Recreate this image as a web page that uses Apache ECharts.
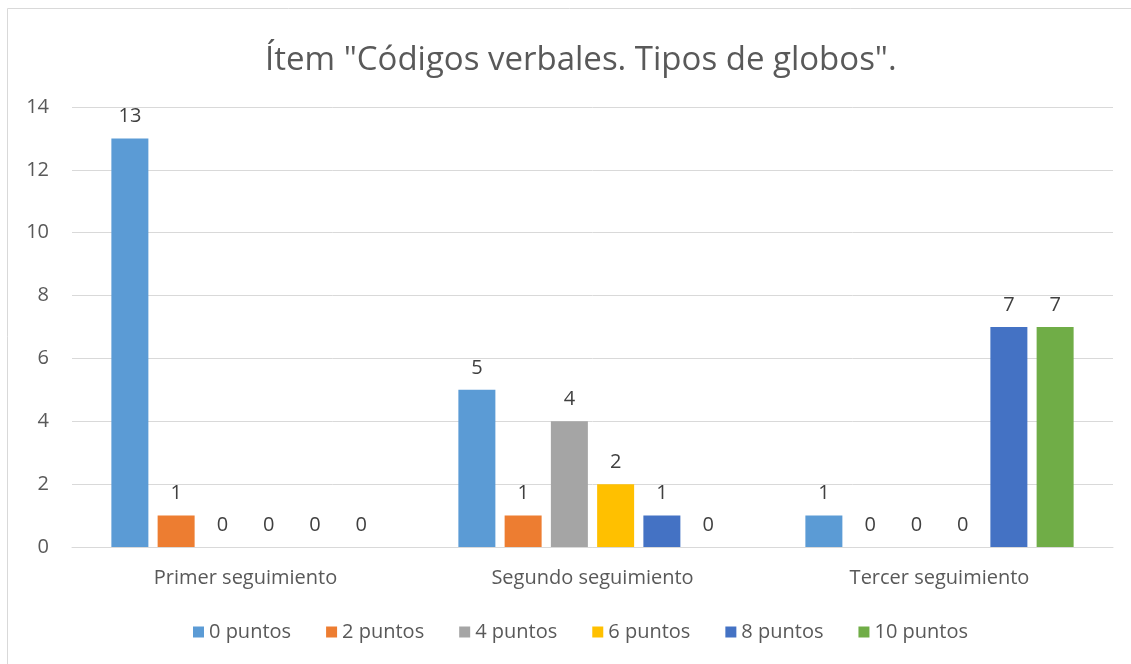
<!DOCTYPE html>
<html>
<head>
<meta charset="utf-8">
<script src="https://cdn.jsdelivr.net/npm/echarts@6/dist/echarts.min.js"></script>
<style>
html,body{margin:0;padding:0;background:#fff;}
#chart{width:1131px;height:664px;}
</style>
</head>
<body>
<div id="chart"></div>
<script>
const categories = ['Primer seguimiento', 'Segundo seguimiento', 'Tercer seguimiento'];
const seriesNames = ['0 puntos', '2 puntos', '4 puntos', '6 puntos', '8 puntos', '10 puntos'];
const puntos0 = [13, 5, 1];
const puntos2 = [1, 1, 0];
const puntos4 = [0, 4, 0];
const puntos6 = [0, 2, 0];
const puntos8 = [0, 1, 7];
const puntos10 = [0, 0, 7];
const colors = ['#5B9BD5', '#ED7D31', '#A5A5A5', '#FFC000', '#4472C4', '#70AD47'];
const titleText = 'Ítem "Códigos verbales. Tipos de globos".';

const seriesData = [puntos0, puntos2, puntos4, puntos6, puntos8, puntos10];
const FONT = '"Open Sans", sans-serif';

const chart = echarts.init(document.getElementById('chart'), null, {renderer: 'canvas'});
chart.setOption({
  animation: false,
  color: colors,
  title: {
    text: titleText,
    left: 260,
    top: 39,
    textStyle: {fontFamily: FONT, fontSize: 33, fontWeight: 'normal', color: '#595959'}
  },
  graphic: [{
    type: 'rect',
    shape: {x: 7.5, y: 8.5, width: 1200, height: 700},
    style: {fill: 'none', stroke: '#D9D9D9', lineWidth: 1},
    silent: true,
    z: -10
  }],
  legend: {
    bottom: 17,
    left: 188,
    itemWidth: 11,
    itemHeight: 11,
    itemGap: 35,
    icon: 'rect',
    textStyle: {fontFamily: FONT, fontSize: 20, color: '#595959'},
    data: seriesNames
  },
  grid: {left: 72, right: 18, top: 107, bottom: 117, containLabel: false},
  xAxis: {
    type: 'category',
    data: categories,
    axisLine: {lineStyle: {color: '#D9D9D9', width: 1}},
    axisTick: {show: false},
    axisLabel: {fontFamily: FONT, fontSize: 20, color: '#595959', margin: 21}
  },
  yAxis: {
    type: 'value',
    min: 0, max: 14, interval: 2,
    axisLine: {show: false},
    axisTick: {show: false},
    splitLine: {lineStyle: {color: '#D9D9D9', width: 1}},
    axisLabel: {fontFamily: FONT, fontSize: 20, color: '#595959', margin: 23}
  },
  series: seriesNames.map((name, i) => ({
    name: name,
    type: 'bar',
    data: seriesData[i],
    barWidth: 37,
    barGap: '25%',
    itemStyle: {color: colors[i]},
    label: {
      show: true,
      position: 'top',
      distance: 12,
      fontFamily: FONT,
      fontSize: 20,
      color: '#404040'
    }
  }))
});
</script>
</body>
</html>
